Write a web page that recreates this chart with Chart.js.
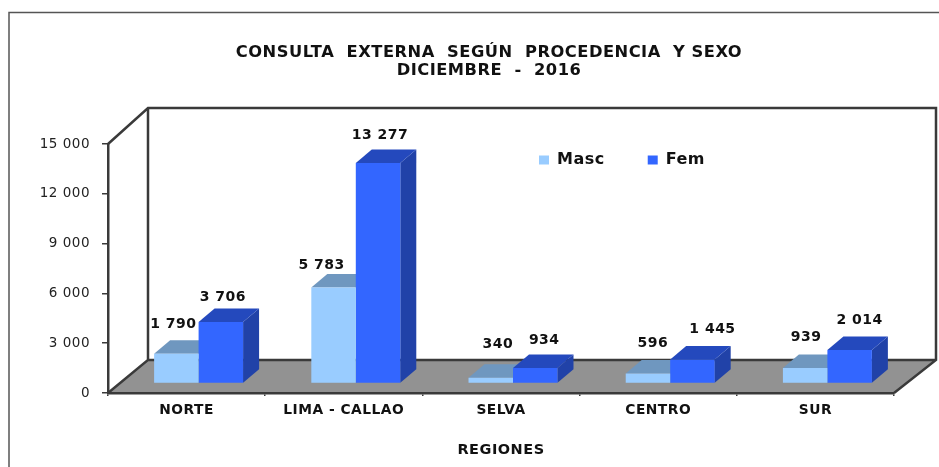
<!DOCTYPE html>
<html><head><meta charset="utf-8">
<style>html,body{margin:0;padding:0;background:#fff}#w{width:939px;height:467px}</style>
<script src="https://cdn.jsdelivr.net/npm/chart.js@4"></script>
</head><body><div id="w"><canvas id="c" width="939" height="467"></canvas></div>
<script>
const categories = ["NORTE", "LIMA - CALLAO", "SELVA", "CENTRO", "SUR"];
const masc = [1790, 5783, 340, 596, 939];
const fem = [3706, 13277, 934, 1445, 2014];
const seriesNames = ["Masc", "Fem"];
const yTicksMax = 15000;
const yTicksStep = 3000;
const titleLines = ["CONSULTA  EXTERNA  SEGÚN  PROCEDENCIA  Y SEXO", "DICIEMBRE  -  2016"];
const xTitle = "REGIONES";

const fmt = v => String(v).replace(/\B(?=(\d{3})+$)/g, " ");
const FONT = '"DejaVu Sans"';
const LINE = '#3a3a3a';
const shift = {x: 12, y: -9.5};
const depth = {x: 16, y: -13.5};
const wall = {x: 40, y: -33, top: -36, right: 42};
const faces = [
  {top: '#6f97bf', side: '#5f86ad'},
  {top: '#2449bd', side: '#2142a8'}
];
const labelNudge = [
  [[-3,-29],[-12,-22],[7,-33],[5,-30],[1,-31]],
  [[2,-25],[2,-28],[9,-28],[20,-30],[10,-30]]
];

function poly(ctx, pts, fill) {
  ctx.beginPath();
  pts.forEach((p, i) => i ? ctx.lineTo(p[0], p[1]) : ctx.moveTo(p[0], p[1]));
  ctx.closePath();
  ctx.fillStyle = fill;
  ctx.fill();
}

const scene = {
  id: 'scene',
  afterLayout(chart) {
    const t = chart.titleBlock;
    t.left = 39; t.right = 939;
    t.top += 1;
    const l = chart.legend;
    l.left = 496; l.right = 760; l.top = 109; l.bottom = 178; l.width = 264; l.height = 69;
    l.lineWidths = [200];
    l.isHorizontal = () => true;
  },
  beforeDraw(chart) {
    const {ctx, chartArea: a, width, height} = chart;
    ctx.letterSpacing = '0.5px';
    ctx.save();
    ctx.fillStyle = '#fff';
    ctx.fillRect(0, 0, width, height);
    // outer frame
    ctx.strokeStyle = '#555';
    ctx.lineWidth = 1.5;
    ctx.beginPath();
    ctx.moveTo(9, height); ctx.lineTo(9, 12.5); ctx.lineTo(width, 12.5);
    ctx.stroke();
    // floor
    const wl = a.left + wall.x, wb = a.bottom + wall.y, wr = a.right + wall.right, wt = a.top + wall.top;
    poly(ctx, [[a.left, a.bottom], [wl, wb], [wr, wb], [a.right, a.bottom]], '#929292');
    // walls
    ctx.strokeStyle = LINE;
    ctx.lineWidth = 2.5;
    ctx.beginPath();
    ctx.moveTo(a.left, a.top); ctx.lineTo(wl, wt); ctx.lineTo(wr, wt); ctx.lineTo(wr, wb);
    ctx.lineTo(a.right, a.bottom);
    ctx.moveTo(wl, wt); ctx.lineTo(wl, wb); ctx.lineTo(a.left, a.bottom);
    ctx.moveTo(wl, wb); ctx.lineTo(wr, wb);
    ctx.stroke();
    ctx.restore();
  },
  beforeDatasetsDraw(chart) {
    const {ctx} = chart;
    ctx.save();
    ctx.translate(shift.x, shift.y);
    chart.data.datasets.forEach((d, i) => {
      chart.getDatasetMeta(i).data.forEach(b => {
        const l = b.x - b.width / 2, r = b.x + b.width / 2, t = b.y, bt = b.base;
        poly(ctx, [[r, t], [r + depth.x, t + depth.y], [r + depth.x, bt + depth.y], [r, bt]], faces[i].side);
        poly(ctx, [[l, t], [l + depth.x, t + depth.y], [r + depth.x, t + depth.y], [r, t]], faces[i].top);
      });
    });
  },
  afterDatasetsDraw(chart) {
    const {ctx} = chart;
    ctx.restore();
    ctx.save();
    ctx.font = 'bold 14px ' + FONT;
    ctx.fillStyle = '#111';
    ctx.textAlign = 'center';
    ctx.textBaseline = 'middle';
    chart.data.datasets.forEach((d, i) => {
      chart.getDatasetMeta(i).data.forEach((b, j) => {
        const n = labelNudge[i][j];
        ctx.fillText(fmt(d.data[j]), b.x + shift.x + n[0], b.y + shift.y + n[1]);
      });
    });
    ctx.restore();
  }
};

new Chart(document.getElementById('c'), {
  type: 'bar',
  data: {
    labels: categories,
    datasets: [
      {label: seriesNames[0], data: masc, backgroundColor: '#99ccff', borderWidth: 0, clip: false},
      {label: seriesNames[1], data: fem, backgroundColor: '#3366ff', borderWidth: 0, clip: false}
    ]
  },
  options: {
    responsive: false,
    animation: false,
    layout: {padding: {left: 0, right: 45, top: 0, bottom: 0}},
    datasets: {bar: {barPercentage: 1, categoryPercentage: 0.566}},
    plugins: {
      tooltip: {enabled: false},
      title: {
        display: true,
        text: titleLines,
        color: '#111',
        font: {family: FONT, weight: 'bold', size: 16.3, lineHeight: 18 / 16.3},
        padding: {top: 43, bottom: 65}
      },
      legend: {
        display: true,
        position: 'chartArea',
        align: 'start',
        labels: {
          boxWidth: 10, boxHeight: 9, padding: 43,
          color: '#111',
          font: {family: FONT, weight: 'bold', size: 16}
        }
      }
    },
    scales: {
      x: {
        afterFit(s) { s.height = 74; },
        grid: {drawOnChartArea: false, drawTicks: true, tickLength: 3, color: LINE, lineWidth: 1.5, offset: true},
        border: {color: LINE, width: 2.5},
        ticks: {color: '#111', padding: 6, maxRotation: 0, autoSkip: false, font: {family: FONT, weight: 'bold', size: 13.8}},
        title: {display: true, text: xTitle, color: '#111', font: {family: FONT, weight: 'bold', size: 14.5}, padding: {top: 0, bottom: 8}}
      },
      y: {
        min: 0, max: yTicksMax,
        afterFit(s) { s.width = 108; },
        grid: {drawOnChartArea: false, drawTicks: true, tickLength: 6, color: LINE, lineWidth: 1.5},
        border: {color: LINE, width: 2.5},
        ticks: {stepSize: yTicksStep, color: '#222', padding: 12, font: {family: FONT, size: 13.5}, callback: v => fmt(v)}
      }
    }
  },
  plugins: [scene]
});
</script></body></html>
